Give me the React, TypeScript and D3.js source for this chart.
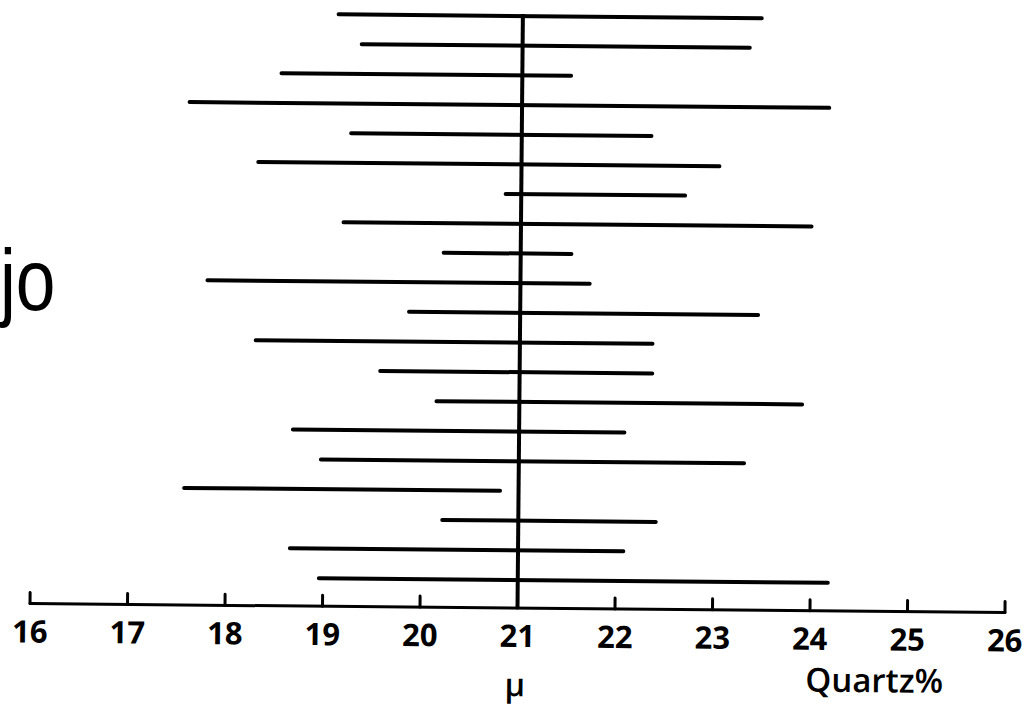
import React from "react";
import * as d3 from "d3";

// Sample intervals for quartz percentage, one row per sample, top to bottom
const sampleIds = [1, 2, 3, 4, 5, 6, 7, 8, 9, 10, 11, 12, 13, 14, 15, 16, 17, 18, 19, 20];
const lowerBounds = [19.11, 19.35, 18.53, 17.59, 19.25, 18.3, 20.84, 19.18, 20.21, 17.79, 19.86, 18.29, 19.57, 20.15, 18.68, 18.97, 17.57, 20.22, 18.66, 18.96];
const upperBounds = [23.45, 23.33, 21.5, 24.15, 22.33, 23.03, 22.68, 23.98, 21.52, 21.71, 23.44, 22.36, 22.36, 23.9, 22.08, 23.31, 20.81, 22.41, 22.08, 24.18];

// Population mean and axis ticks
const mu = 21;
const tickValues = [16, 17, 18, 19, 20, 21, 22, 23, 24, 25, 26];
const axisLabel = "Quartz%";
const muLabel = "\u03bc";

const W = 1028;
const H = 704;

export default function App() {
  const x = d3.scaleLinear().domain([16, 26]).range([30, 1005]);
  const y = d3.scalePoint<number>().domain(sampleIds).range([16, 580]);
  const axisY = 608;
  const cx = x(mu);
  const tilt = 0.52;

  const rows = sampleIds.map((id, i) => ({ id, lo: lowerBounds[i], hi: upperBounds[i] }));

  return (
    <svg
      width={W}
      height={H}
      viewBox={`0 0 ${W} ${H}`}
      style={{ position: "absolute", left: 0, top: 0, background: "#fff" }}
    >
      <rect width={W} height={H} fill="#fff" />
      <g transform={`rotate(${tilt}, ${cx}, ${axisY})`}>
        {/* interval lines */}
        {rows.map((r) => (
          <line
            key={r.id}
            x1={x(r.lo)}
            x2={x(r.hi)}
            y1={y(r.id)}
            y2={y(r.id)}
            stroke="#000"
            strokeWidth={4}
            strokeLinecap="round"
          />
        ))}
        {/* mean line */}
        <line x1={cx} x2={cx} y1={y(1)! - 2} y2={axisY} stroke="#000" strokeWidth={4} />
        {/* axis */}
        <line x1={x(16)} x2={x(26)} y1={axisY} y2={axisY} stroke="#000" strokeWidth={3} strokeLinecap="round" />
        {tickValues.map((t) => (
          <line
            key={`t${t}`}
            x1={x(t)}
            x2={x(t)}
            y1={axisY}
            y2={axisY - 11}
            stroke="#000"
            strokeWidth={3}
            strokeLinecap="round"
          />
        ))}
        {tickValues.map((t) => (
          <text
            key={`l${t}`}
            x={x(t)}
            y={axisY + 39}
            textAnchor="middle"
            fontFamily="'Open Sans', sans-serif"
            fontWeight={700}
            fontSize={31}
            fill="#000"
          >
            {t}
          </text>
        ))}
        <text
          x={cx - 2}
          y={696}
          textAnchor="middle"
          fontFamily="'Open Sans', sans-serif"
          fontWeight={600}
          fontSize={32}
          fill="#000"
        >
          {muLabel}
        </text>
        <text
          x={806}
          y={689}
          fontFamily="'Open Sans', sans-serif"
          fontWeight={600}
          fontSize={33}
          fill="#000"
        >
          {axisLabel}
        </text>
      </g>
      <text
        transform="translate(0, 310) scale(0.81, 1)"
        x={0}
        y={0}
        fontFamily="'Liberation Sans', Arial, sans-serif"
        fontSize={88}
        fill="#000"
      >
        jo
      </text>
    </svg>
  );
}
